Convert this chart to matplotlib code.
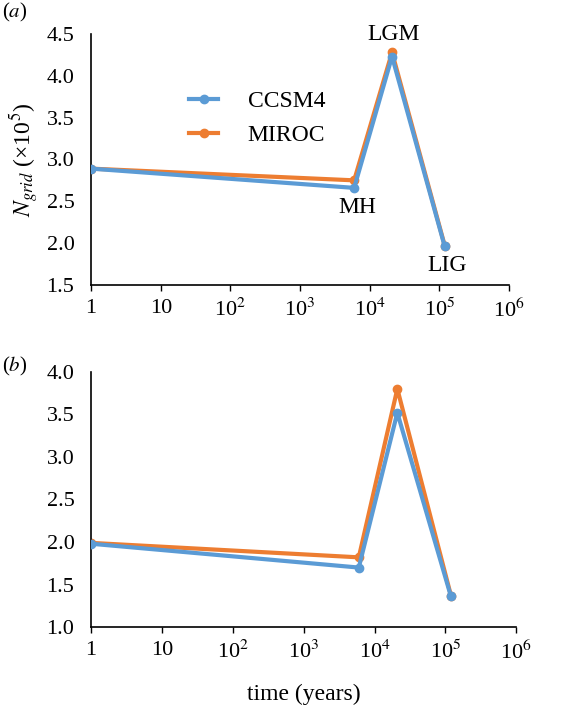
import numpy as np
import matplotlib
matplotlib.use('Agg')
import matplotlib.pyplot as plt

plt.rcParams['font.family'] = ['Liberation Serif', 'DejaVu Serif']
plt.rcParams['mathtext.fontset'] = 'stix'
plt.rcParams['font.size'] = 16

# data
years = [1, 6000, 21000, 120000]
labels = ['', 'MH', 'LGM', 'LIG']
ccsm4_a = [2.89, 2.66, 4.23, 1.96]
miroc_a = [2.89, 2.75, 4.28, 1.97]
ccsm4_b = [1.98, 1.70, 3.52, 1.36]
miroc_b = [1.99, 1.82, 3.80, 1.37]
xticks = [1, 10, 1e2, 1e3, 1e4, 1e5, 1e6]
xticklabels = ['1', '10', r'10$^2$', r'10$^3$', r'10$^4$', r'10$^5$', r'10$^6$']

blue = '#5B9BD5'
orange = '#ED7D31'

fig = plt.figure(figsize=(5.66, 7.07), dpi=100)
ax1 = fig.add_axes([0.161, 0.597, 0.738, 0.355])
ax2 = fig.add_axes([0.161, 0.113, 0.751, 0.361])


def style(ax, ylim, yticks):
    ax.set_xscale('log')
    ax.set_xlim(1, 1e6)
    ax.set_xticks(xticks)
    ax.set_xticklabels(xticklabels)
    ax.minorticks_off()
    ax.set_ylim(*ylim)
    ax.set_yticks(yticks)
    ax.set_yticklabels(['%.1f' % v for v in yticks])
    for s in ['top', 'right']:
        ax.spines[s].set_visible(False)
    for s in ['left', 'bottom']:
        ax.spines[s].set_linewidth(1.2)
    ax.tick_params(axis='x', direction='out', length=4, width=1.0, pad=6, labelsize=16)
    ax.tick_params(axis='y', direction='out', length=0, pad=12, labelsize=16)


ax1.plot(years, miroc_a, color=orange, lw=3, marker='o', ms=6, label='MIROC', zorder=2)
ax1.plot(years, ccsm4_a, color=blue, lw=3, marker='o', ms=6, label='CCSM4', zorder=3)
style(ax1, (1.5, 4.5), np.arange(1.5, 4.51, 0.5))
ax1.set_ylabel(r'$N_{grid}$ (×10$^{5}$)', labelpad=4, fontsize=17)
h, l = ax1.get_legend_handles_labels()
ax1.legend(h[::-1], l[::-1], frameon=False, loc='upper left',
           bbox_to_anchor=(0.183, 0.86), handlelength=1.25, handletextpad=1.25,
           labelspacing=0.55, fontsize=17)

# point annotations
ax1.annotate('MH', (years[1], ccsm4_a[1]), xytext=(2, -14), textcoords='offset points',
             ha='center', va='center', fontsize=17)
ax1.annotate('LGM', (years[2], miroc_a[2]), xytext=(1, 13), textcoords='offset points',
             ha='center', va='center', fontsize=17)
ax1.annotate('LIG', (years[3], ccsm4_a[3]), xytext=(2, -14), textcoords='offset points',
             ha='center', va='center', fontsize=17)

ax2.plot(years, miroc_b, color=orange, lw=3, marker='o', ms=6, zorder=2)
ax2.plot(years, ccsm4_b, color=blue, lw=3, marker='o', ms=6, zorder=3)
style(ax2, (1.0, 4.0), np.arange(1.0, 4.01, 0.5))
ax2.set_xlabel('time (years)', labelpad=14, fontsize=17)

fig.text(0.003, 0.983, r'($a$)', ha='left', va='center', fontsize=15)
fig.text(0.003, 0.481, r'($b$)', ha='left', va='center', fontsize=15)

fig.savefig('out.png', dpi=100)
